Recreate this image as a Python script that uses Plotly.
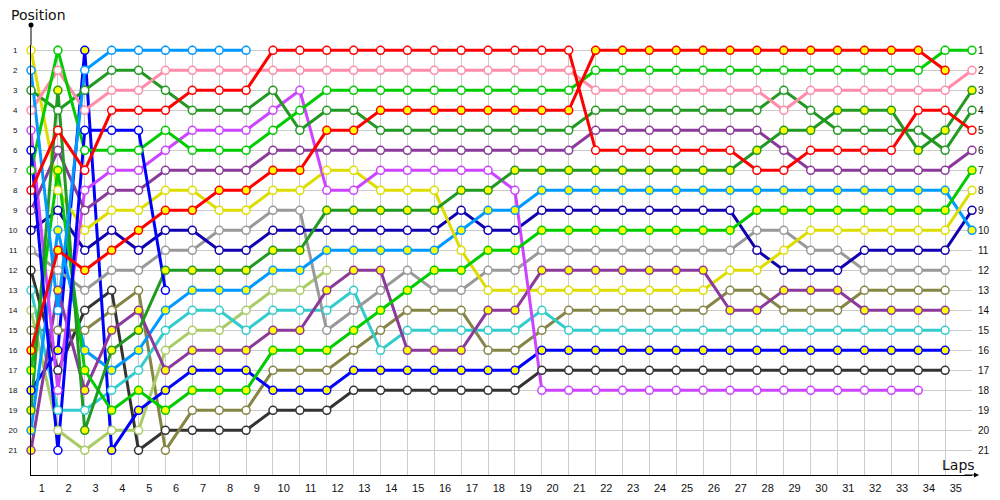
import plotly.graph_objects as go

# ---- data: position per lap index (index 0 = start) ----
lap_labels = ["1","2","3","4","5","6","7","8","9","10","11","12","13","14","15","16","17","18",
              "19","20","21","22","23","24","25","26","27","28","29","30","31","32","33","34","35"]
positions = list(range(1, 22))

red_w = [8,5,7,4,4,4,3,3,3,1,1,1,1,1,1,1,1,1,1,1,1,6,6,6,6,6,6,7,7,6,6,6,6,4,4,5]
red_y = [16,11,12,11,10,9,9,8,8,7,7,5,5,4,4,4,4,4,4,4,4,1,1,1,1,1,1,1,1,1,1,1,1,1,2]
pink_w = [4,2,4,3,3,2,2,2,2,2,2,2,2,2,2,2,2,2,2,2,2,3,3,3,3,3,3,3,4,3,3,3,3,3,3,2]
green_w = [7,1,6,6,6,5,6,6,6,5,4,3,3,3,3,3,3,3,3,3,3,2,2,2,2,2,2,2,2,2,2,2,2,2,1,1]
green_y = [17,7,17,19,18,19,18,18,18,16,16,16,15,14,13,12,12,11,11,10,10,10,10,10,10,10,10,9,9,9,9,9,9,9,9,7]
dkgreen_w = [3,4,3,2,2,3,4,4,4,3,5,4,4,5,5,5,5,5,5,5,5,4,4,4,4,4,4,4,3,4,5,5,5,5,6,4]
dkgreen_y = [19,3,20,16,15,12,12,12,12,11,11,9,9,9,9,9,8,8,7,7,7,7,7,7,7,7,7,6,5,5,4,4,4,6,5,3]
purple_w = [9,6,9,8,8,7,7,7,7,6,6,6,6,6,6,6,6,6,6,6,6,5,5,5,5,5,5,5,6,7,7,7,7,7,7,6]
purple_y = [21,13,18,15,14,17,16,16,16,15,15,13,12,12,16,16,16,14,14,12,12,12,12,12,12,12,14,14,13,13,13,14,14,14,14]
violet_w = [5,18,8,7,7,6,5,5,5,4,3,8,8,7,7,7,7,7,8,18,18,18,18,18,18,18,18,18,18,18,18,18,18,18]
yellow_w = [1,8,10,9,9,8,8,9,9,8,8,7,7,8,8,8,11,13,13,13,13,13,13,13,13,13,12,12,11,10,10,10,10,10,10,8]
navy_w = [10,9,11,10,11,10,10,11,11,10,10,10,10,10,10,10,9,10,10,9,9,9,9,9,9,9,9,11,12,12,12,11,11,11,11,9]
gray_w = [11,12,13,12,12,11,11,10,10,9,9,15,14,13,12,13,13,12,12,11,11,11,11,11,11,11,11,10,10,11,11,12,12,12,12]
ltblue_w = [2,14,2,1,1,1,1,1,1]
ltblue_y = [20,10,16,17,16,14,13,13,13,12,12,11,11,11,11,11,10,9,9,8,8,8,8,8,8,8,8,8,8,8,8,8,8,8,8,10]
blue_w = [6,21,5,5,5,13]
blue_y = [18,16,1,21,19,18,17,17,17,18,18,18,17,17,17,17,17,17,17,16,16,16,16,16,16,16,16,16,16,16,16,16,16,16,16]
teal_w = [13,19,19,18,17,15,14,14,15,14,14,14,13,16,15,15,15,15,15,14,15,15,15,15,15,15,15,15,15,15,15,15,15,15,15]
ltolive_w = [14,20,21,20,20,16,15,15,14,13,13,12]
olive_w = [15,15,15,14,13,21,19,19,19,17,17,17,16,15,14,14,14,16,16,15,14,14,14,14,14,14,13,13,14,14,14,13,13,13,13]
black_w = [12,17,14,13,21,20,20,20,20,19,19,19,18,18,18,18,18,18,18,17,17,17,17,17,17,17,17,17,17,17,17,17,17,17,17]

WHITE = "#ffffff"
YEL = "#ffff00"
drivers = [
    ("black", "#333333", WHITE, black_w),
    ("olive", "#858545", WHITE, olive_w),
    ("ltolive", "#aacc66", WHITE, ltolive_w),
    ("teal", "#33cccc", WHITE, teal_w),
    ("blue_y", "#0000ff", YEL, blue_y),
    ("gray", "#999999", WHITE, gray_w),
    ("navy", "#1100b0", WHITE, navy_w),
    ("ltblue_y", "#0099ff", YEL, ltblue_y),
    ("yellow", "#dddd00", WHITE, yellow_w),
    ("purple_y", "#8b3a9b", YEL, purple_y),
    ("violet", "#cc44ff", WHITE, violet_w),
    ("purple_w", "#8b3a9b", WHITE, purple_w),
    ("green_y", "#00cc00", YEL, green_y),
    ("dkgreen_y", "#229922", YEL, dkgreen_y),
    ("dkgreen_w", "#229922", WHITE, dkgreen_w),
    ("pink", "#ff8ca8", WHITE, pink_w),
    ("green_w", "#00cc00", WHITE, green_w),
    ("blue_w", "#0000ff", WHITE, blue_w),
    ("ltblue_w", "#0099ff", WHITE, ltblue_w),
    ("red_y", "#ff0000", YEL, red_y),
    ("red_w", "#ff0000", WHITE, red_w),
]

fig = go.Figure()
for name, col, fill, pos in drivers:
    fig.add_trace(go.Scatter(x=list(range(len(pos))), y=pos, mode="lines", name=name,
                             line=dict(color=col, width=3), showlegend=False, hoverinfo="skip"))
for name, col, fill, pos in drivers:
    fig.add_trace(go.Scatter(x=list(range(len(pos))), y=pos, mode="markers", name=name,
                             marker=dict(size=8, color=fill, line=dict(color=col, width=1.5)),
                             showlegend=False, cliponaxis=False))
fig.add_trace(go.Scatter(x=[None], y=[None], yaxis="y2", showlegend=False, hoverinfo="skip"))

# page is rendered with an 8px body margin; margins compensate so the plot area
# spans page x 31..972 and page y 45..475
OFF = 8
L, R, T, B = 31 - OFF, 1000 - 972 + OFF, 45 - OFF, 500 - 475 + OFF
PW, PH = 941, 430
yr = [22.235, 0.735]
fig.update_layout(
    width=1000, height=500,
    margin=dict(l=L, r=R, t=T, b=B, autoexpand=False),
    plot_bgcolor="white", paper_bgcolor="white",
    xaxis=dict(range=[0, 35], tickvals=[k - 0.6 for k in range(1, 36)], ticktext=lap_labels,
               showgrid=False, zeroline=False, showline=True, linecolor="black", linewidth=1,
               ticks="", ticklabelstandoff=3, automargin=False,
               tickfont=dict(family="Liberation Sans", size=11, color="#111111"),
               minor=dict(tick0=0, dtick=1, showgrid=True, gridcolor="#cccccc", gridwidth=1, ticks="")),
    yaxis=dict(range=yr, tickvals=positions, showgrid=True, gridcolor="#cccccc", gridwidth=1,
               zeroline=False, showline=True, linecolor="black", linewidth=1, ticks="",
               ticklabelstandoff=11, automargin=False,
               tickfont=dict(family="Liberation Sans", size=8, color="#111111")),
    yaxis2=dict(range=yr, tickvals=positions, overlaying="y", side="right", showgrid=False,
                zeroline=False, showline=False, ticks="", ticklabelstandoff=5, automargin=False,
                tickfont=dict(family="Liberation Sans", size=10, color="#111111")),
    shapes=[
        dict(type="line", xref="paper", yref="paper", x0=0, x1=0, y0=1, y1=1 + 20 / PH,
             line=dict(color="black", width=1)),
        dict(type="circle", xref="paper", yref="paper", xsizemode="pixel", ysizemode="pixel",
             xanchor=0, yanchor=1 + 20 / PH, x0=-2.5, x1=2.5, y0=-2.5, y1=2.5,
             fillcolor="black", line=dict(color="black", width=0)),
    ],
    annotations=[
        dict(text="Position", xref="paper", yref="paper", x=(9 - 31) / PW, y=(475 - 15) / PH,
             xanchor="left", yanchor="middle", showarrow=False,
             font=dict(family="DejaVu Sans", size=14, color="#111111")),
        dict(text="Laps", xref="paper", yref="paper", x=(958 - 31) / PW, y=(475 - 465) / PH,
             xanchor="center", yanchor="middle", showarrow=False,
             font=dict(family="DejaVu Sans", size=14, color="#111111")),
        dict(text="", xref="paper", yref="paper", x=(979 - 31) / PW, y=0, ax=-16, ay=0,
             axref="pixel", ayref="pixel", showarrow=True, arrowhead=2, arrowsize=1,
             arrowwidth=1, arrowcolor="black"),
    ],
)
fig.write_html("out.html")
